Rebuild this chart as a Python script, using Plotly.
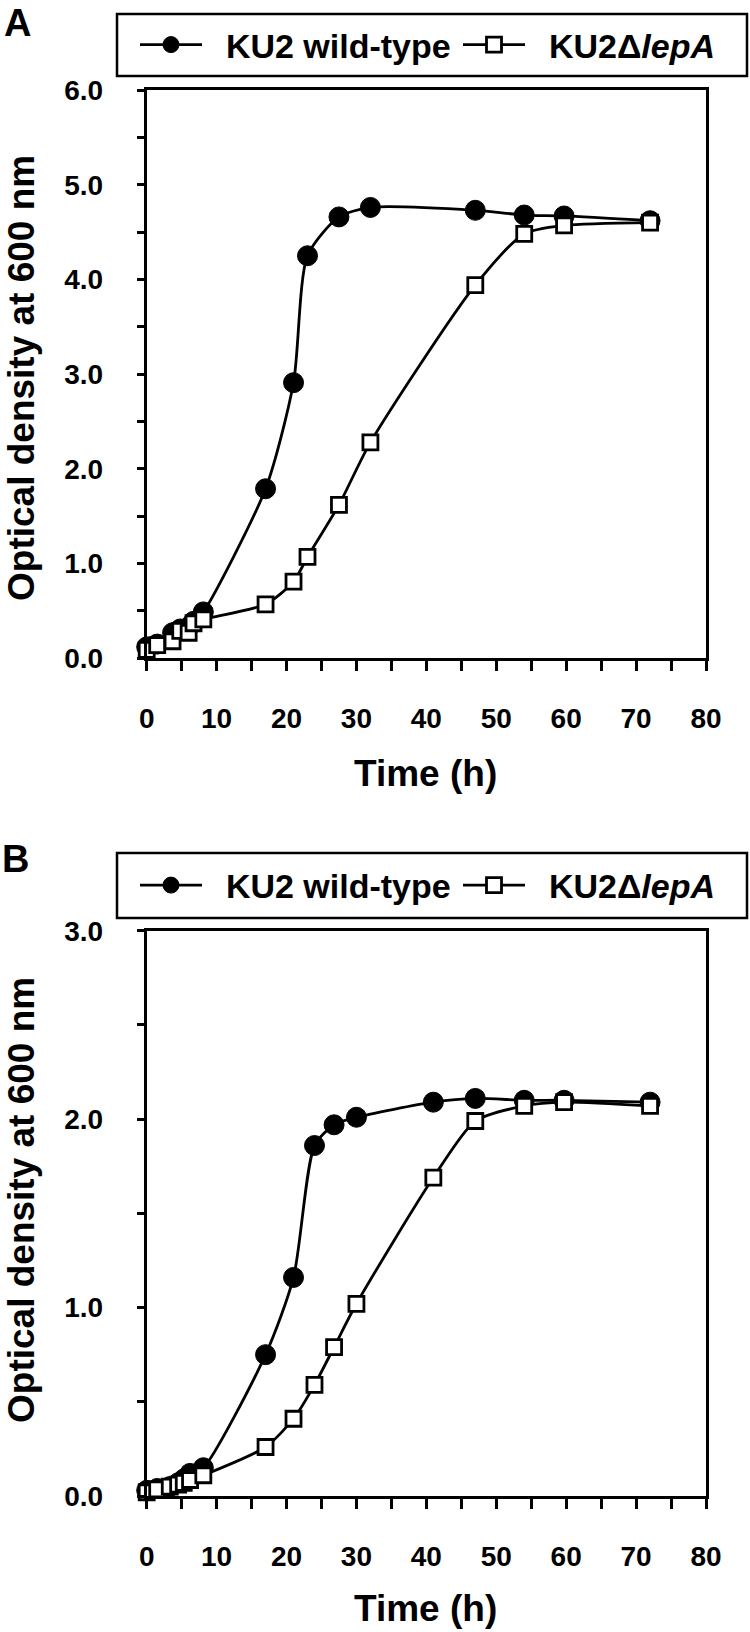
import plotly.graph_objects as go

# ---------------- data ----------------
# Panel A
time_a = [0, 1.5, 3.7, 4.8, 6.0, 6.7, 8.1, 17, 21, 23, 27.5, 32, 47, 54, 59.7, 72]
od_a_wt = [0.12, 0.15, 0.27, 0.31, 0.33, 0.39, 0.49, 1.79, 2.91, 4.25, 4.66, 4.76, 4.73, 4.68, 4.67, 4.62]
od_a_lepa = [0.09, 0.14, 0.18, 0.29, 0.27, 0.37, 0.41, 0.57, 0.81, 1.07, 1.62, 2.28, 3.94, 4.48, 4.57, 4.60]

# Panel B
time_b = [0, 1.5, 3.3, 4.5, 5.3, 6.2, 8.1, 17, 21, 24, 26.8, 30, 41, 47, 54, 59.7, 72]
od_b_wt = [0.03, 0.04, 0.05, 0.07, 0.09, 0.12, 0.15, 0.75, 1.16, 1.86, 1.97, 2.01, 2.09, 2.11, 2.10, 2.10, 2.09]
od_b_lepa = [0.02, 0.035, 0.05, 0.06, 0.07, 0.085, 0.11, 0.26, 0.41, 0.59, 0.79, 1.02, 1.69, 1.99, 2.07, 2.09, 2.07]

series_names = ["KU2 wild-type", "KU2Δ<i>lepA</i>"]
panel_labels = ["A", "B"]
x_title = "Time (h)"
y_title = "Optical density at 600 nm"

# ---------------- figure ----------------
W, H = 750, 1632
FONT = "Arial, Liberation Sans, Helvetica, sans-serif"
GAP = "\u00a0\u00a0"  # visual gap between legend symbol and text

def px_x(p):
    return p / W

def px_y(p):
    return 1 - p / H

fig = go.Figure()

panels = [
    dict(t=time_a, wt=od_a_wt, lp=od_a_lepa, xa="x", ya="y", legends=("legend", "legend2")),
    dict(t=time_b, wt=od_b_wt, lp=od_b_lepa, xa="x2", ya="y2", legends=("legend3", "legend4")),
]

for p in panels:
    fig.add_trace(go.Scatter(
        x=p["t"], y=p["wt"], name=GAP + series_names[0], xaxis=p["xa"], yaxis=p["ya"],
        mode="lines+markers", legend=p["legends"][0], cliponaxis=False,
        line=dict(color="black", width=2.8, shape="spline", smoothing=0.7),
        marker=dict(symbol="circle", size=20, color="black", line=dict(color="black", width=1)),
    ))
    fig.add_trace(go.Scatter(
        x=p["t"], y=p["lp"], name=GAP + series_names[1], xaxis=p["xa"], yaxis=p["ya"],
        mode="lines+markers", legend=p["legends"][1], cliponaxis=False,
        line=dict(color="black", width=2.8, shape="spline", smoothing=0.7),
        marker=dict(symbol="square", size=15, color="white", line=dict(color="black", width=2.8)),
    ))

xdom = [px_x(146.7), px_x(706)]
ydom_a = [px_y(658.3), px_y(90)]
ydom_b = [px_y(1496), px_y(930.7)]

tickfont = dict(family=FONT, size=28, color="black", weight="bold")

def xaxis(anchor):
    return dict(
        domain=xdom, anchor=anchor, range=[0, 80], dtick=10, tick0=0,
        showline=True, linecolor="black", linewidth=3, mirror=True,
        ticks="outside", ticklen=10, tickwidth=3, tickcolor="black",
        minor=dict(dtick=5, ticks="outside", ticklen=10, tickwidth=3, tickcolor="black"),
        showgrid=False, zeroline=False, tickfont=tickfont, ticklabelstandoff=23,
        fixedrange=True,
    )

def yaxis(anchor, dom, top):
    return dict(
        domain=dom, anchor=anchor, range=[0, top], dtick=1, tick0=0, tickformat=".1f",
        showline=True, linecolor="black", linewidth=3, mirror=True,
        ticks="outside", ticklen=7, tickwidth=3, tickcolor="black",
        minor=dict(dtick=0.5, ticks="outside", ticklen=7, tickwidth=3, tickcolor="black"),
        showgrid=False, zeroline=False, tickfont=tickfont, ticklabelstandoff=28,
        fixedrange=True,
    )

legend_font = dict(family=FONT, size=34, color="black", weight="bold")

def legend_cfg(left_px, center_y):
    return dict(
        orientation="h", x=px_x(left_px), y=px_y(center_y), xanchor="left", yanchor="middle",
        font=legend_font, itemwidth=62,
        bgcolor="rgba(0,0,0,0)", borderwidth=0, itemclick=False, itemdoubleclick=False,
    )

fig.update_layout(
    width=W, height=H, margin=dict(l=0, r=0, t=0, b=0, autoexpand=False),
    paper_bgcolor="white", plot_bgcolor="white",
    xaxis=xaxis("y"), yaxis=yaxis("x", ydom_a, 6),
    xaxis2=xaxis("y2"), yaxis2=yaxis("x2", ydom_b, 3),
    legend=legend_cfg(135, 45), legend2=legend_cfg(458, 45),
    legend3=legend_cfg(135, 885.5), legend4=legend_cfg(458, 885.5),
    showlegend=True,
)

# legend frames
for top, bot in [(14, 76), (853, 918)]:
    fig.add_shape(type="rect", xref="paper", yref="paper",
                  x0=px_x(117), x1=px_x(747), y0=px_y(bot), y1=px_y(top),
                  line=dict(color="black", width=2.5), fillcolor="rgba(0,0,0,0)", layer="above")

annos = []
# panel letters
for lab, (cx, cy) in zip(panel_labels, [(17, 22.5), (15, 859)]):
    annos.append(dict(text=lab, x=px_x(cx), y=px_y(cy), xref="paper", yref="paper",
                      xanchor="center", yanchor="middle", showarrow=False,
                      font=dict(family=FONT, size=38, color="black", weight="bold")))
# axis titles
title_font = dict(family=FONT, size=37, color="black", weight="bold")
for xt_y, yt_y in [(773, 378), (1608, 1200)]:
    annos.append(dict(text=x_title, x=px_x(426), y=px_y(xt_y), xref="paper", yref="paper",
                      xanchor="center", yanchor="middle", showarrow=False, font=title_font))
    annos.append(dict(text=y_title, x=px_x(21), y=px_y(yt_y), xref="paper", yref="paper",
                      xanchor="center", yanchor="middle", showarrow=False, textangle=-90,
                      font=title_font))
fig.update_layout(annotations=annos)

fig.write_html(
    "out.html",
    config={"displayModeBar": False},
    post_script="document.body.style.margin='0';document.body.style.padding='0';"
                "document.body.style.overflow='hidden';",
)
